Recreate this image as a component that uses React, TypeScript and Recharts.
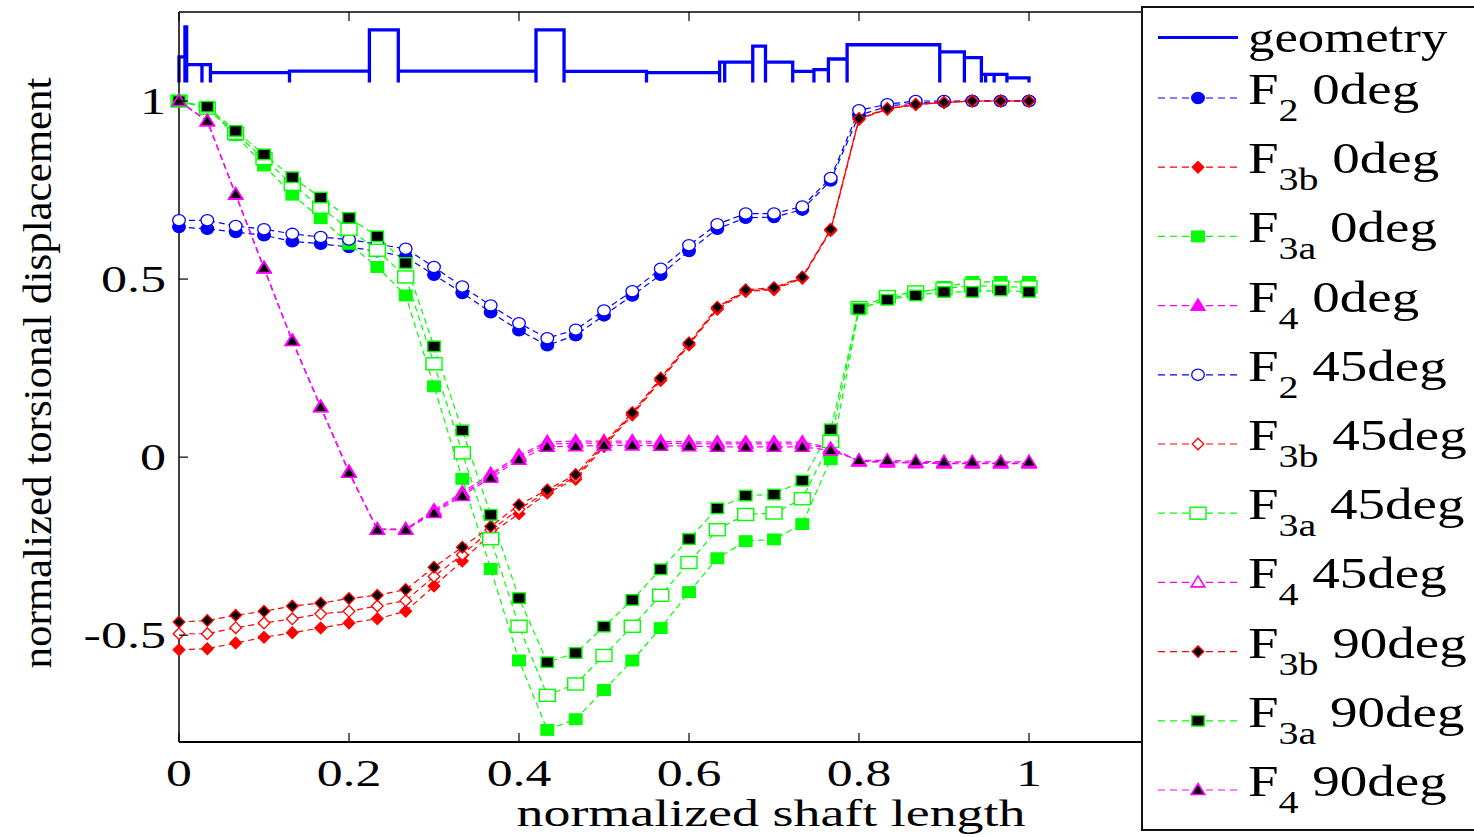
import React from 'react';
import { ComposedChart, Line, XAxis, YAxis } from 'recharts';

// normalized shaft positions (31 stations)
const shaftPos = [
  0, 0.0333, 0.0667, 0.1, 0.1333, 0.1667, 0.2, 0.2333, 0.2667, 0.3, 0.3333, 0.3667, 0.4, 0.4333, 0.4667, 0.5,
  0.5333, 0.5667, 0.6, 0.6333, 0.6667, 0.7, 0.7333, 0.7667, 0.8, 0.8333, 0.8667, 0.9, 0.9333, 0.9667, 1,
];

const f2_0deg = [
  0.646, 0.641, 0.632, 0.623, 0.606, 0.599, 0.59, 0.578, 0.562, 0.512, 0.461, 0.407, 0.356, 0.314, 0.342, 0.398,
  0.454, 0.512, 0.579, 0.641, 0.672, 0.674, 0.695, 0.777, 0.96, 0.985, 0.995, 0.998, 1.0, 1.0, 1.0,
];
const f3b_0deg = [
  -0.541, -0.538, -0.522, -0.506, -0.493, -0.48, -0.466, -0.454, -0.433, -0.362, -0.292, -0.215, -0.159, -0.101,
  -0.062, 0.03, 0.118, 0.215, 0.315, 0.415, 0.465, 0.47, 0.502, 0.636, 0.948, 0.977, 0.99, 0.996, 1.0, 1.0, 1.0,
];
const f3a_0deg = [
  1.0, 0.98, 0.904, 0.819, 0.737, 0.671, 0.599, 0.534, 0.454, 0.199, -0.061, -0.314, -0.571, -0.766, -0.736, -0.654,
  -0.571, -0.48, -0.379, -0.284, -0.236, -0.231, -0.188, -0.006, 0.415, 0.445, 0.46, 0.478, 0.492, 0.492, 0.492,
];
const f4_0deg = [
  1.0, 0.943, 0.737, 0.53, 0.327, 0.142, -0.041, -0.202, -0.202, -0.149, -0.099, -0.047, 0.005, 0.043, 0.045, 0.045,
  0.045, 0.044, 0.043, 0.042, 0.042, 0.042, 0.042, 0.027, -0.012, -0.015, -0.017, -0.018, -0.018, -0.018, -0.018,
];
const f2_45deg = [
  0.665, 0.665, 0.649, 0.64, 0.627, 0.618, 0.611, 0.598, 0.585, 0.534, 0.479, 0.426, 0.376, 0.334, 0.358, 0.412,
  0.466, 0.529, 0.595, 0.654, 0.684, 0.684, 0.704, 0.784, 0.974, 0.991, 1.0, 1.0, 1.0, 1.0, 1.0,
];
const f3b_45deg = [
  -0.496, -0.496, -0.479, -0.466, -0.454, -0.44, -0.433, -0.418, -0.403, -0.335, -0.274, -0.205, -0.146, -0.097,
  -0.056, 0.034, 0.122, 0.218, 0.318, 0.418, 0.467, 0.473, 0.504, 0.638, 0.95, 0.978, 0.99, 0.996, 1.0, 1.0, 1.0,
];
const f3a_45deg = [
  1.0, 0.98, 0.909, 0.838, 0.766, 0.702, 0.64, 0.581, 0.506, 0.262, 0.012, -0.229, -0.475, -0.669, -0.637, -0.557,
  -0.475, -0.388, -0.296, -0.204, -0.161, -0.157, -0.117, 0.044, 0.42, 0.451, 0.464, 0.473, 0.482, 0.478, 0.478,
];
const f4_45deg = [
  1.0, 0.944, 0.738, 0.531, 0.327, 0.141, -0.042, -0.203, -0.203, -0.153, -0.104, -0.052, 0.0, 0.037, 0.039, 0.04,
  0.04, 0.039, 0.038, 0.037, 0.037, 0.037, 0.037, 0.024, -0.011, -0.013, -0.015, -0.016, -0.016, -0.016, -0.016,
];
const f3b_90deg = [
  -0.463, -0.459, -0.444, -0.433, -0.418, -0.41, -0.397, -0.388, -0.372, -0.309, -0.253, -0.195, -0.134, -0.092,
  -0.049, 0.039, 0.125, 0.222, 0.321, 0.421, 0.47, 0.476, 0.506, 0.64, 0.951, 0.979, 0.991, 0.996, 1.0, 1.0, 1.0,
];
const f3a_90deg = [
  1.0, 0.984, 0.916, 0.85, 0.786, 0.729, 0.672, 0.62, 0.545, 0.311, 0.075, -0.162, -0.396, -0.576, -0.55, -0.476,
  -0.401, -0.315, -0.23, -0.144, -0.108, -0.105, -0.066, 0.078, 0.416, 0.442, 0.454, 0.464, 0.464, 0.468, 0.464,
];
const f4_90deg = [
  1.0, 0.944, 0.738, 0.531, 0.326, 0.14, -0.044, -0.204, -0.204, -0.157, -0.109, -0.058, -0.007, 0.029, 0.031, 0.033,
  0.033, 0.032, 0.031, 0.029, 0.029, 0.029, 0.029, 0.019, -0.009, -0.009, -0.012, -0.013, -0.013, -0.013, -0.013,
];

// shaft geometry sections: [start, end, level]
const geometrySections = [
  [0, 0.007, 1.124],
  [0.007, 0.009, 1.208],
  [0.009, 0.027, 1.102],
  [0.027, 0.037, 1.102],
  [0.037, 0.13, 1.08],
  [0.13, 0.224, 1.084],
  [0.224, 0.258, 1.2],
  [0.258, 0.42, 1.084],
  [0.42, 0.453, 1.2],
  [0.453, 0.55, 1.083],
  [0.55, 0.636, 1.08],
  [0.636, 0.642, 1.109],
  [0.642, 0.675, 1.109],
  [0.675, 0.69, 1.154],
  [0.69, 0.722, 1.109],
  [0.722, 0.747, 1.083],
  [0.747, 0.764, 1.088],
  [0.764, 0.786, 1.118],
  [0.786, 0.895, 1.158],
  [0.895, 0.924, 1.138],
  [0.924, 0.944, 1.122],
  [0.944, 0.949, 1.075],
  [0.949, 0.959, 1.075],
  [0.959, 0.974, 1.075],
  [0.974, 1.0, 1.065],
];
const geometryBase = 1.052;

const xTicks = [0, 0.2, 0.4, 0.6, 0.8, 1, 1.2];
const yTicks = [-0.5, 0, 0.5, 1];

const BLUE = '#0000ff';
const RED = '#ff0000';
const GREEN = '#00ff00';
const MAGENTA = '#ff00ff';
const FONT = '"Liberation Serif", "Times New Roman", serif';

type Shape = 'circle' | 'diamond' | 'square' | 'triangle';
type SeriesDef = {
  key: string;
  values: number[];
  color: string;
  shape: Shape;
  fill: string;
  sub: string;
  angle: string;
};

const series: SeriesDef[] = [
  { key: 'f2_0', values: f2_0deg, color: BLUE, shape: 'circle', fill: BLUE, sub: '2', angle: '0deg' },
  { key: 'f3b_0', values: f3b_0deg, color: RED, shape: 'diamond', fill: RED, sub: '3b', angle: '0deg' },
  { key: 'f3a_0', values: f3a_0deg, color: GREEN, shape: 'square', fill: GREEN, sub: '3a', angle: '0deg' },
  { key: 'f4_0', values: f4_0deg, color: MAGENTA, shape: 'triangle', fill: MAGENTA, sub: '4', angle: '0deg' },
  { key: 'f2_45', values: f2_45deg, color: BLUE, shape: 'circle', fill: '#fff', sub: '2', angle: '45deg' },
  { key: 'f3b_45', values: f3b_45deg, color: RED, shape: 'diamond', fill: '#fff', sub: '3b', angle: '45deg' },
  { key: 'f3a_45', values: f3a_45deg, color: GREEN, shape: 'square', fill: '#fff', sub: '3a', angle: '45deg' },
  { key: 'f4_45', values: f4_45deg, color: MAGENTA, shape: 'triangle', fill: '#fff', sub: '4', angle: '45deg' },
  { key: 'f3b_90', values: f3b_90deg, color: RED, shape: 'diamond', fill: '#000', sub: '3b', angle: '90deg' },
  { key: 'f3a_90', values: f3a_90deg, color: GREEN, shape: 'square', fill: '#000', sub: '3a', angle: '90deg' },
  { key: 'f4_90', values: f4_90deg, color: MAGENTA, shape: 'triangle', fill: '#000', sub: '4', angle: '90deg' },
];

const rows = shaftPos.map((x, i) => {
  const row: Record<string, number> = { x };
  series.forEach((s) => {
    row[s.key] = s.values[i];
  });
  return row;
});

// outline of each section, open at the bottom
const geometryPoints = geometrySections.flatMap(([x0, x1, level]) => [
  { x: x0, y: geometryBase },
  { x: x0, y: level },
  { x: x1, y: level },
  { x: x1, y: geometryBase },
]);

const Marker = ({ shape, cx, cy, fill, stroke }: { shape: Shape; cx: number; cy: number; fill: string; stroke: string }) => {
  if (shape === 'circle') {
    return <ellipse cx={cx} cy={cy} rx={6.3} ry={5.6} fill={fill} stroke={stroke} strokeWidth={1.3} />;
  }
  if (shape === 'diamond') {
    return (
      <polygon
        points={`${cx},${cy - 5.8} ${cx + 5.8},${cy} ${cx},${cy + 5.8} ${cx - 5.8},${cy}`}
        fill={fill}
        stroke={stroke}
        strokeWidth={1.3}
      />
    );
  }
  if (shape === 'square') {
    const hollow = fill === '#fff';
    const w = hollow ? 16 : 12.5;
    const h = hollow ? 12 : 10.5;
    return <rect x={cx - w / 2} y={cy - h / 2} width={w} height={h} fill={fill} stroke={stroke} strokeWidth={1.4} />;
  }
  return (
    <polygon
      points={`${cx},${cy - 6.5} ${cx + 6.8},${cy + 4.5} ${cx - 6.8},${cy + 4.5}`}
      fill={fill}
      stroke={stroke}
      strokeWidth={1.6}
    />
  );
};

const XTick = (props: any) => {
  const { x, y, payload } = props;
  return (
    <g>
      <line x1={x} x2={x} y1={y} y2={y - 9} stroke="#000" strokeWidth={1.2} />
      <g transform={`translate(${x},${y + 44}) scale(1.4,1)`}>
        <text textAnchor="middle" fontSize={37} fontFamily={FONT} fill="#000">
          {String(payload.value)}
        </text>
      </g>
    </g>
  );
};

const TopTick = (props: any) => {
  const { x, y } = props;
  return <line x1={x} x2={x} y1={y} y2={y + 9} stroke="#000" strokeWidth={1.2} />;
};

const YTick = (props: any) => {
  const { x, y, payload } = props;
  return (
    <g>
      <line x1={x} x2={x + 9} y1={y} y2={y} stroke="#000" strokeWidth={1.2} />
      <g transform={`translate(${x - 13},${y + 13}) scale(1.37,1)`}>
        <text textAnchor="end" fontSize={38} fontFamily={FONT} fill="#000">
          {String(payload.value)}
        </text>
      </g>
    </g>
  );
};

const XTitle = () => (
  <text
    x={771}
    y={826}
    textAnchor="middle"
    fontSize={37}
    fontFamily={FONT}
    fill="#000"
    textLength={509}
    lengthAdjust="spacingAndGlyphs"
  >
    normalized shaft length
  </text>
);

const YTitle = () => (
  <g transform="translate(51,373) rotate(-90)">
    <text
      x={0}
      y={0}
      textAnchor="middle"
      fontSize={40}
      fontFamily={FONT}
      fill="#000"
      textLength={591}
      lengthAdjust="spacingAndGlyphs"
    >
      normalized torsional displacement
    </text>
  </g>
);

const Legend = () => {
  const lx1 = 1158;
  const lx2 = 1238;
  const mx = 1198;
  const tx = 1248;
  return (
    <svg width={1474} height={837} style={{ position: 'absolute', left: 0, top: 0 }}>
      <rect x={1142} y={7} width={360} height={823} fill="#fff" stroke="#111" strokeWidth={2} />
      <line x1={lx1} x2={lx2} y1={37.5} y2={37.5} stroke={BLUE} strokeWidth={3} />
      <g transform={`translate(${tx},52) scale(1.2,1)`}>
        <text fontSize={44} fontFamily={FONT} fill="#000">
          geometry
        </text>
      </g>
      {series.map((s, k) => {
        const my = 98 + k * 69.2;
        return (
          <g key={s.key}>
            <line x1={lx1} x2={lx2} y1={my} y2={my} stroke={s.color} strokeWidth={1.2} strokeDasharray="7 5" />
            <Marker shape={s.shape} cx={mx} cy={my} fill={s.fill} stroke={s.color} />
            <g transform={`translate(${tx},${my + 6}) scale(1.25,1)`}>
              <text fontSize={44} fontFamily={FONT} fill="#000" style={{ whiteSpace: 'pre' }}>
                F
                <tspan fontSize={32} dy={17}>
                  {s.sub}
                </tspan>
                <tspan dy={-17}>{' ' + s.angle}</tspan>
              </text>
            </g>
          </g>
        );
      })}
    </svg>
  );
};

export default function App() {
  return (
    <div style={{ position: 'relative', width: 1474, height: 837, overflow: 'hidden', background: '#fff' }}>
      <style>{'body{margin:0;overflow:hidden}'}</style>
      <ComposedChart width={1474} height={837} data={rows} margin={{ top: 2, right: 275, bottom: 35, left: 99 }}>
        <XAxis
          type="number"
          dataKey="x"
          domain={[0, 1.2]}
          ticks={xTicks}
          height={60}
          tickSize={0}
          tickMargin={0}
          tickLine={false}
          tick={<XTick />}
          axisLine={{ stroke: '#000', strokeWidth: 2 }}
          label={<XTitle />}
        />
        <XAxis
          xAxisId="top"
          orientation="top"
          type="number"
          dataKey="x"
          domain={[0, 1.2]}
          ticks={xTicks}
          height={10}
          tickSize={0}
          tickMargin={0}
          tickLine={false}
          tick={<TopTick />}
          axisLine={{ stroke: '#000', strokeWidth: 1.5 }}
        />
        <YAxis
          type="number"
          domain={[-0.8, 1.25]}
          ticks={yTicks}
          width={80}
          tickSize={0}
          tickMargin={0}
          tickLine={false}
          tick={<YTick />}
          axisLine={{ stroke: '#000', strokeWidth: 1.5 }}
          label={<YTitle />}
        />
        <Line
          data={geometryPoints}
          dataKey="y"
          type="linear"
          stroke={BLUE}
          strokeWidth={3.3}
          dot={false}
          activeDot={false}
          isAnimationActive={false}
        />
        {series.map((s) => (
          <Line
            key={s.key}
            dataKey={s.key}
            type="linear"
            stroke={s.color}
            strokeWidth={1.2}
            strokeDasharray="6 4"
            activeDot={false}
            isAnimationActive={false}
            dot={(p: any) => (
              <Marker key={`${s.key}-${p.index}`} shape={s.shape} cx={p.cx} cy={p.cy} fill={s.fill} stroke={s.color} />
            )}
          />
        ))}
      </ComposedChart>
      <Legend />
    </div>
  );
}
